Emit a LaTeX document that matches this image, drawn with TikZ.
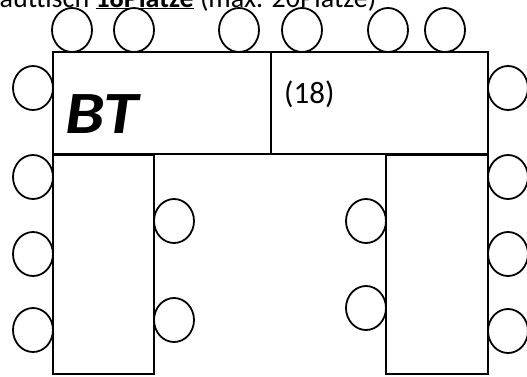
\documentclass[tikz,border=0pt]{standalone}
\usepackage{fontspec}
\setmainfont{Carlito}
\begin{document}
\begin{tikzpicture}[x=1pt,y=-1pt,
  chair/.style={draw=black,line width=1.8pt,fill=white},
  tablebox/.style={draw=black,line width=1.8pt,fill=white},
  lbl/.style={inner sep=0pt,anchor=base west}]
\useasboundingbox (0,0) rectangle (527,376);
\clip (0,0) rectangle (527,376);
% title (cut off at top, as in the reference)
\node[lbl,font=\fontsize{28}{30}\selectfont] (title) at (-25,7)
  {Brauttisch \underline{\textbf{18Plätze}} (max. 20Plätze)};
% top chairs
\foreach \x in {72,134,239,302,388,445}
  \draw[chair] (\x,30) ellipse [x radius=20pt, y radius=22pt];
% left outer chairs
\foreach \y in {88,177,254,330}
  \draw[chair] (33,\y) ellipse [x radius=20pt, y radius=22pt];
% right outer chairs
\foreach \y in {88,177,254,331}
  \draw[chair] (508,\y) ellipse [x radius=20pt, y radius=22pt];
% inner chairs
\foreach \y in {221,320}
  \draw[chair] (174,\y) ellipse [x radius=20pt, y radius=22pt];
\foreach \y in {221,308}
  \draw[chair] (366,\y) ellipse [x radius=20pt, y radius=22pt];
% tables
\draw[tablebox] (53,155) rectangle (154,374);
\draw[tablebox] (386,155) rectangle (488,374);
\draw[tablebox] (53,52) rectangle (271,154);
\draw[tablebox] (271,52) rectangle (488,154);
% labels
\node[lbl,font=\fontsize{60}{62}\selectfont\bfseries\itshape] (bt) at (65,133) {\scalebox{1.17}[1]{BT}};
\node[lbl,font=\fontsize{31}{33}\selectfont] (n18) at (284,103) {(18)};
\end{tikzpicture}
\end{document}
